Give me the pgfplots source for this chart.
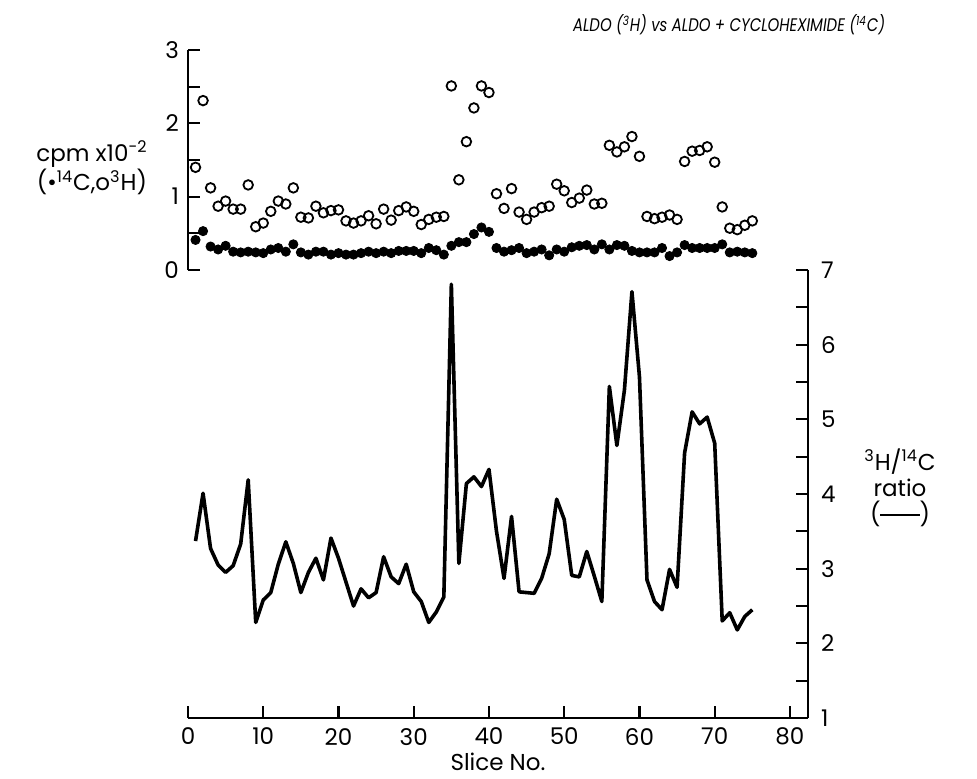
\documentclass[border=0pt]{standalone}
\usepackage{fontspec}
\setmainfont{Poppins}
\usepackage{graphicx}
\usepackage{pgfplots}
\usepackage{pgfplotstable}
\pgfplotsset{compat=1.18}

\pgfplotstableread{
s h c
1 1.40 0.41
2 2.31 0.53
3 1.12 0.32
4 0.87 0.28
5 0.94 0.33
6 0.83 0.25
7 0.83 0.24
8 1.16 0.25
9 0.59 0.24
10 0.64 0.23
11 0.80 0.28
12 0.94 0.30
13 0.90 0.25
14 1.12 0.35
15 0.72 0.24
16 0.71 0.21
17 0.87 0.25
18 0.78 0.25
19 0.81 0.21
20 0.82 0.23
21 0.67 0.21
22 0.64 0.21
23 0.67 0.23
24 0.74 0.25
25 0.63 0.23
26 0.83 0.25
27 0.68 0.23
28 0.81 0.26
29 0.86 0.26
30 0.80 0.26
31 0.62 0.23
32 0.69 0.30
33 0.72 0.27
34 0.73 0.21
35 2.51 0.33
36 1.23 0.38
37 1.75 0.38
38 2.21 0.49
39 2.51 0.58
40 2.42 0.52
41 1.04 0.30
42 0.84 0.25
43 1.11 0.27
44 0.79 0.30
45 0.69 0.23
46 0.79 0.25
47 0.85 0.28
48 0.87 0.20
49 1.17 0.28
50 1.08 0.25
51 0.92 0.31
52 0.98 0.33
53 1.09 0.34
54 0.90 0.28
55 0.91 0.35
56 1.70 0.28
57 1.61 0.34
58 1.68 0.33
59 1.82 0.26
60 1.55 0.24
61 0.73 0.24
62 0.70 0.24
63 0.72 0.30
64 0.75 0.19
65 0.69 0.24
66 1.48 0.34
67 1.62 0.30
68 1.63 0.30
69 1.68 0.30
70 1.47 0.30
71 0.86 0.35
72 0.57 0.24
73 0.55 0.25
74 0.61 0.24
75 0.67 0.23
}\cpm

\pgfplotstableread{
s r
1 3.37
2 4.01
3 3.27
4 3.05
5 2.95
6 3.04
7 3.33
8 4.19
9 2.28
10 2.58
11 2.68
12 3.06
13 3.36
14 3.07
15 2.68
16 2.95
17 3.14
18 2.85
19 3.41
20 3.14
21 2.82
22 2.50
23 2.73
24 2.61
25 2.68
26 3.16
27 2.89
28 2.80
29 3.06
30 2.69
31 2.56
32 2.28
33 2.42
34 2.62
35 6.81
36 3.07
37 4.14
38 4.23
39 4.10
40 4.33
41 3.50
42 2.87
43 3.70
44 2.69
45 2.68
46 2.67
47 2.87
48 3.20
49 3.93
50 3.66
51 2.91
52 2.89
53 3.23
54 2.90
55 2.56
56 5.44
57 4.65
58 5.39
59 6.71
60 5.57
61 2.85
62 2.56
63 2.45
64 2.99
65 2.75
66 4.55
67 5.10
68 4.94
69 5.03
70 4.68
71 2.30
72 2.41
73 2.18
74 2.36
75 2.45
}\ratio

\newcommand{\lab}{\fontsize{11.5}{13}\selectfont}

\begin{document}
\begin{tikzpicture}[x=1pt,y=1pt]
\path[use as bounding box] (0,0) rectangle (488.5,389);

% bottom axis: ratio
\begin{axis}[
  at={(94pt,30pt)}, anchor=south west,
  scale only axis, width=310pt, height=224pt,
  xmin=0, xmax=82.4, ymin=1, ymax=7,
  axis x line=bottom, axis y line=right,
  axis line style={-, line width=1.2pt},
  xtick={0,10,...,80}, ytick={1,...,7},
  minor ytick={1.5,2.5,...,6.5},
  tick align=inside,
  major tick length=6pt, minor tick length=6pt,
  every tick/.style={line width=1.1pt, black},
  ticklabel style={font=\lab},
  /pgf/number format/assume math mode=true,
  xticklabel style={yshift=-1.5pt},
  yticklabel style={xshift=3pt},
  xlabel={Slice No.}, xlabel style={font=\lab, yshift=3pt},
  clip=false,
]
\addplot[black, line width=1.8pt, line join=round, mark=none] table[x=s, y=r] {\ratio};
\end{axis}

% top axis: cpm
\begin{axis}[
  at={(94pt,254pt)}, anchor=south west,
  scale only axis, width=310pt, height=110pt,
  xmin=0, xmax=82.4, ymin=0, ymax=3,
  axis x line=none, axis y line=left,
  axis line style={-, line width=1.2pt},
  ytick={0,1,2,3}, minor ytick={0.5,1.5,2.5},
  tick align=inside,
  major tick length=6pt, minor tick length=6pt,
  every tick/.style={line width=1.1pt, black},
  ticklabel style={font=\lab},
  /pgf/number format/assume math mode=true,
  yticklabel style={xshift=-1pt},
  clip=false,
]
\addplot[only marks, mark=o, mark size=2.4pt, mark options={line width=0.9pt, black}] table[x=s, y=h] {\cpm};
\addplot[only marks, mark=*, mark size=2.3pt, mark options={black, fill=black}] table[x=s, y=c] {\cpm};
\end{axis}

\node[font=\lab, align=center] at (46,305) {cpm x10\textsuperscript{-2}\\(•\textsuperscript{14}C,o\textsuperscript{3}H)};
\node[font=\lab, align=center] at (450,145) {\textsuperscript{3}H/\textsuperscript{14}C\\ratio\\(\rule[0.28em]{1.7em}{0.9pt})};
\node at (364.5,376.5) {\resizebox{156pt}{8.5pt}{\itshape ALDO (\textsuperscript{3}H) vs ALDO + CYCLOHEXIMIDE (\textsuperscript{14}C)}};
\end{tikzpicture}
\end{document}
